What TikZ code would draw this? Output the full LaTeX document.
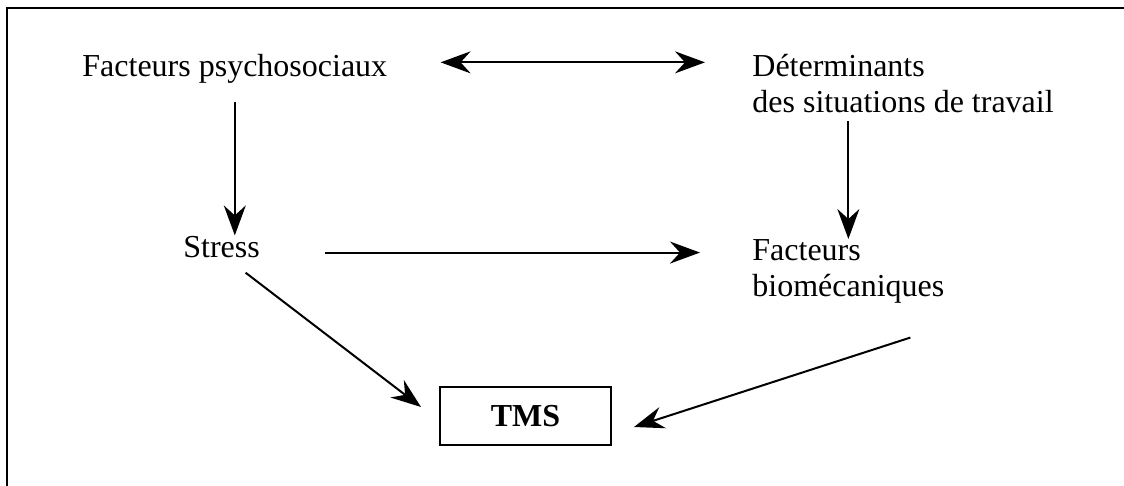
\documentclass[tikz,border=0pt]{standalone}
\usepackage{fontspec}
\setmainfont{Liberation Serif}
\usetikzlibrary{arrows.meta, positioning, calc}

\begin{document}
\begin{tikzpicture}[x=0.5pt, y=-0.5pt,
  >={Stealth[length=15pt, width=11pt, inset=5pt]},
  txt/.style={inner sep=0pt, font=\fontsize{16}{18}\selectfont},
  link/.style={line width=1pt},
  tmsbox/.style={draw, line width=1pt, minimum width=85.5pt, minimum height=29pt,
    inner sep=0pt, font=\fontsize{16}{18}\selectfont\bfseries}]
  \useasboundingbox (0,0) rectangle (1124,486);
  % Frame (only top and left edges show)
  \draw[line width=1pt] (7,486) -- (7,8) -- (1124,8);

  % Factors
  \node[txt, anchor=base west] (psy) at (82,77) {Facteurs psychosociaux};
  \node[txt, anchor=north west, align=left] (det) at (752,54) {Déterminants\\des situations de travail};
  \node[txt, anchor=base west] (stress) at (183,257) {Stress};
  \node[txt, anchor=north west, align=left] (bio) at (752,239) {Facteurs\\biomécaniques};
  % Outcome
  \node[tmsbox] (tms) at (525.5,416) {TMS};

  % Arrows between factors
  \draw[link, <->, shorten <=26.5pt, shorten >=23.5pt]
    ($(psy.east)+(0,-7)$) -- ($(psy.east -| det.west)+(0,-7)$);
  \draw[link, ->, shorten <=9pt] (psy.south) -- (psy.south |- stress.north);
  \draw[link, ->, shorten <=4pt] (det.south -| bio.north) -- (bio.north);
  \draw[link, ->, shorten <=32.5pt, shorten >=26pt]
    ($(stress.east)+(0,6)$) -- ($(stress.east -| bio.west)+(0,6)$);
  % Arrows into TMS
  \draw[link, ->] ($(stress.south)+(24,15)$) -- ($(tms.west)+(-18,-9)$);
  \draw[link, ->] ($(bio.south)+(62,34)$) -- ($(tms.east)+(22,11)$);
\end{tikzpicture}
\end{document}
